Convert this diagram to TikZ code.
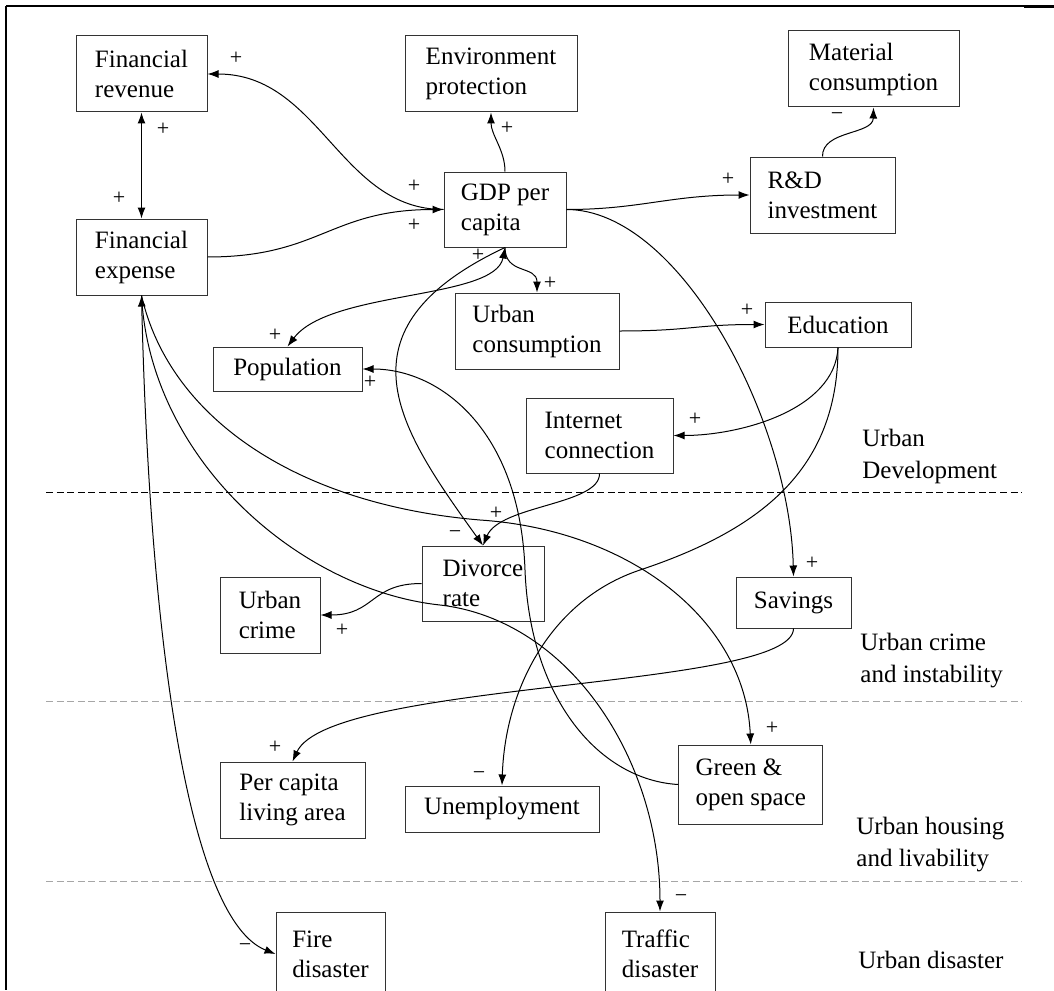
\documentclass[tikz,border=0pt]{standalone}
\usepackage{fontspec}
\setmainfont{Liberation Serif}
\usetikzlibrary{arrows.meta}

\begin{document}
\begin{tikzpicture}[x=0.5pt,y=-0.5pt,
  var/.style={draw=black!80,line width=0.5pt,align=left,inner sep=2pt,minimum height=38pt,font=\fontsize{12.5}{15}\selectfont},
  link/.style={-{Latex[length=5.5pt,width=4pt]},line width=0.5pt},
  both/.style={{Latex[length=5.5pt,width=4pt]}-{Latex[length=5.5pt,width=4pt]},line width=0.5pt},
  sign/.style={inner sep=0pt,font=\fontsize{11}{12}\selectfont},
  zone/.style={anchor=west,align=left,inner sep=0pt,font=\fontsize{12.5}{16}\selectfont},
  border/.style={dash pattern=on 3.5pt off 1.8pt,line width=0.5pt}]
  \useasboundingbox (0,0) rectangle (1054,990);
  \draw[line width=1pt] (6,6) -- (6,990);
  \draw[line width=0.6pt] (6,6) -- (1054,6);
  \draw[line width=1.3pt] (6,6) -- (45,6);
  \draw[line width=1.3pt] (1024,7) -- (1054,7);
  \draw[border] (46,492) -- (1022,492);
  \draw[border,gray!70] (46,701) -- (1022,701);
  \draw[border,gray!70] (46,881) -- (1022,881);

  \node[var,minimum width=65.5pt] (finrev) at (141.5,74) {Financial\\revenue};
  \node[var,minimum width=65.5pt] (finexp) at (141.5,257) {Financial\\expense};
  \node[var,minimum width=86pt] (env) at (491,74) {Environment\\protection};
  \node[var,minimum width=61pt,minimum height=37.5pt] (gdp) at (505,209.5) {GDP per\\capita};
  \node[var,minimum width=85.5pt] (mat) at (873.5,69) {Material\\consumption};
  \node[var,minimum width=72.5pt] (rnd) at (822.5,195) {R\&D\\investment};
  \node[var,minimum width=82pt] (ucons) at (537,331) {Urban\\consumption};
  \node[var,minimum width=73pt,minimum height=22.5pt] (edu) at (838,324.5) {Education};
  \node[var,minimum width=74.5pt,minimum height=22pt] (pop) at (287.5,369) {Population};
  \node[var,minimum width=73.5pt,minimum height=37.5pt] (inet) at (599.5,435.5) {Internet\\connection};
  \node[var,minimum width=61pt,minimum height=37.5pt] (divorce) at (483,583.5) {Divorce\\rate};
  \node[var,minimum width=50pt] (crime) at (270,615) {Urban\\crime};
  \node[var,minimum width=57.5pt,minimum height=25.5pt] (sav) at (793.5,602.5) {Savings};
  \node[var,minimum width=72.5pt] (living) at (292.5,800) {Per capita\\living area};
  \node[var,minimum width=97pt,minimum height=23pt] (unemp) at (502,809) {Unemployment};
  \node[var,minimum width=72pt,minimum height=39.5pt] (green) at (750.75,784.5) {Green \&\\open space};
  \node[var,minimum width=54.5pt,minimum height=42pt] (fire) at (330.5,954) {Fire\\disaster};
  \node[var,minimum width=55pt,minimum height=42pt] (traffic) at (660,954) {Traffic\\disaster};

  \node[zone] (zdev) at (862,456) {Urban\\Development};
  \node[zone] (zcrime) at (860,661) {Urban crime\\and instability};
  \node[zone] (zhouse) at (856,845) {Urban housing\\and livability};
  \node[zone] (zdis) at (858,960) {Urban disaster};

  \draw[link] (gdp.west) .. controls (340,209.5) and (320,74) .. (finrev.east);
  \draw[link] (finexp.east) .. controls (320,257) and (330,209.5) .. (gdp.west);
  \draw[both] (finrev.south) -- (finexp.north);
  \draw[link] (gdp.north) .. controls (505,150) and (491,135) .. (env.south);
  \draw[link] (gdp.east) .. controls (640,209.5) and (670,195) .. (rnd.west);
  \draw[link] (rnd.north) .. controls (822,130) and (873,135) .. (mat.south);
  \draw[link] (gdp.south) .. controls (505,275) and (537,265) .. (ucons.north);
  \draw[both] (gdp.south) .. controls (495,300) and (330,290) .. (pop.north);
  \draw[link] (gdp.south) .. controls (330,330) and (400,430) .. (divorce.north);
  \draw[link] (gdp.east) .. controls (680,209.5) and (790,420) .. (sav.north);
  \draw[link] (ucons.east) .. controls (690,331) and (695,324.5) .. (edu.west);
  \draw[link] (edu.south) .. controls (835,410) and (740,435.5) .. (inet.east);
  \draw[link] (edu.south) .. controls (838,470) and (760,530) .. (640,570)
    .. controls (550,600) and (505,690) .. (unemp.north);
  \draw[link] (inet.south) .. controls (600,505) and (500,505) .. (divorce.north);
  \draw[link] (divorce.west) .. controls (370,583.5) and (375,615) .. (crime.east);
  \draw[link] (sav.south) .. controls (793,690) and (330,680) .. (living.north);
  \draw[both] (finexp.south) .. controls (150,650) and (190,920) .. (fire.west);
  \draw[link] (finexp.south) .. controls (150,460) and (300,590) .. (440,605)
    .. controls (570,620) and (660,760) .. (traffic.north);
  \draw[link] (finexp.south) .. controls (170,420) and (300,505) .. (480,520)
    .. controls (630,530) and (745,620) .. (green.north);
  \draw[link] (green.west) .. controls (600,780) and (530,700) .. (525,570)
    .. controls (520,430) and (440,369) .. (pop.east);

  \node[sign] (sg1) at (236,58) {+};
  \node[sign] (sg2) at (163,129) {+};
  \node[sign] (sg3) at (119,198) {+};
  \node[sign] (sg4) at (414,186) {+};
  \node[sign] (sg5) at (414,225) {+};
  \node[sign] (sg6) at (507,128) {+};
  \node[sign] (sg7) at (728,179) {+};
  \node[sign] (sg8) at (837,117) {−};
  \node[sign] (sg9) at (478,255) {+};
  \node[sign] (sg10) at (550,283) {+};
  \node[sign] (sg11) at (275,335) {+};
  \node[sign] (sg12) at (370,382) {+};
  \node[sign] (sg13) at (747,310) {+};
  \node[sign] (sg14) at (695,419) {+};
  \node[sign] (sg15) at (496,513) {+};
  \node[sign] (sg16) at (455,535) {−};
  \node[sign] (sg17) at (342,630) {+};
  \node[sign] (sg18) at (812,563) {+};
  \node[sign] (sg19) at (275,747) {+};
  \node[sign] (sg20) at (479,776) {−};
  \node[sign] (sg21) at (772,728) {+};
  \node[sign] (sg22) at (681,899) {−};
  \node[sign] (sg23) at (245,948) {−};
\end{tikzpicture}
\end{document}
